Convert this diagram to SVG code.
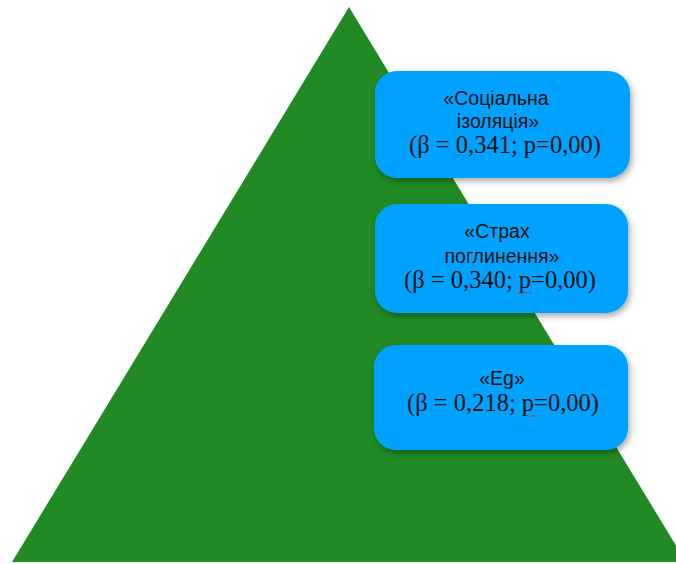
<svg xmlns="http://www.w3.org/2000/svg" width="676" height="564" viewBox="0 0 676 564">
<style>
.box{fill:#00A2FF;filter:url(#sh)}
.s{font-family:"Liberation Sans",Arial,sans-serif;font-size:19.5px;fill:#111;text-anchor:middle}
.r{font-family:"Liberation Serif","Times New Roman",serif;font-size:24.5px;fill:#111;text-anchor:middle}
.sp{stroke:#e02020;stroke-width:1.5;stroke-dasharray:1.5 2;fill:none}
</style>
<defs>
<filter id="sh" x="-10%" y="-10%" width="125%" height="130%">
<feDropShadow dx="2" dy="3" stdDeviation="3" flood-color="#000" flood-opacity="0.35"/>
</filter>
</defs>
<rect width="676" height="564" fill="#fff"/>
<g id="pyramid"><polygon points="349,7 12,562 686,562" fill="#218A24"/></g>
<g id="connectors"></g>
<g id="node1">
<rect class="box" x="375" y="71" width="255" height="107" rx="22"/>
<text class="s" x="496" y="105">«Соціальна</text>
<text class="s" x="498" y="128">ізоляція»</text>
<text class="r" x="505" y="153">(β = 0,341; p=0,00)</text>
</g>
<g id="node2">
<rect class="box" x="375" y="204" width="253" height="109" rx="22"/>
<text class="s" x="497" y="238">«Страх</text>
<text class="s" x="502" y="263">поглинення»</text>
<text class="r" x="500" y="288">(β = 0,340; p=0,00)</text>
<path class="sp" d="M519,293 H532"/>
</g>
<g id="node3">
<rect class="box" x="374" y="345" width="254" height="105" rx="22"/>
<text class="s" x="502" y="385">«Eg»</text>
<text class="r" x="503" y="411">(β = 0,218; p=0,00)</text>
<path class="sp" d="M525,416 H538"/>
</g>
</svg>
